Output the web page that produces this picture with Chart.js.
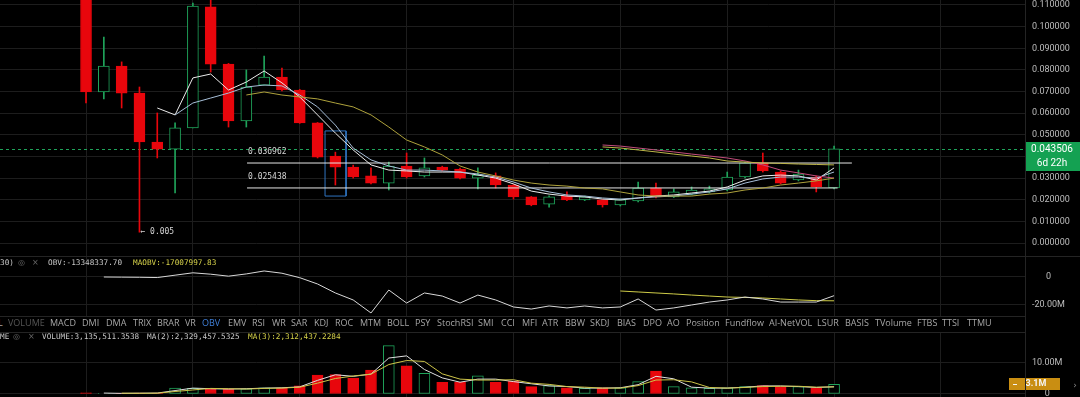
<!DOCTYPE html>
<html>
<head>
<meta charset="utf-8">
<script src="https://cdn.jsdelivr.net/npm/chart.js@4.4.1/dist/chart.umd.min.js"></script>
<style>
  body { margin: 0; background: #000; width: 1080px; height: 397px; overflow: hidden; position: relative; font-family: 'Open Sans', sans-serif; }
  canvas { position: absolute; left: 0; }
  #main { top: 0; }
  #obv { top: 256px; }
  #vol { top: 332px; }
  .hd { position: absolute; font: 7.7px 'DejaVu Sans Mono', monospace; color: #c8c8c8; white-space: pre; line-height: 10px; z-index: 2; }
  .icon { color: #6a6a6a; font-family: 'DejaVu Sans', sans-serif; font-size: 8px; }
  .yel { color: #d6d24a; }
  .tab { position: absolute; top: 317px; font-size: 9px; color: #a6a6a6; line-height: 12px; white-space: pre; }
  .rule { position: absolute; background: #242424; }
</style>
</head>
<body>
<canvas id="main" width="1080" height="256"></canvas>
<canvas id="obv" width="1080" height="60"></canvas>
<canvas id="vol" width="1080" height="65"></canvas>

<div class="rule" style="left:0;top:256px;width:1080px;height:1px"></div>
<div class="rule" style="left:0;top:316px;width:1025px;height:1px"></div>
<div class="rule" style="left:0;top:332px;width:1025px;height:1px"></div>
<div class="rule" style="left:1025px;top:0;width:1px;height:397px"></div>

<div class="hd" style="left:0;top:258px">30)</div>
<div class="hd icon" style="left:18px;top:258px">◎</div>
<div class="hd icon" style="left:32px;top:258px">×</div>
<div class="hd" style="left:48px;top:258px">OBV:-13348337.70</div>
<div class="hd yel" style="left:133px;top:258px">MAOBV:-17007997.83</div>

<div class="hd" style="left:0;top:332px">ME</div>
<div class="hd icon" style="left:13px;top:332px">◎</div>
<div class="hd icon" style="left:28px;top:332px">×</div>
<div class="hd" style="left:42px;top:332px">VOLUME:3,135,511.3538</div>
<div class="hd" style="left:147px;top:332px">MA(2):2,329,457.5325</div>
<div class="hd yel" style="left:248px;top:332px">MA(3):2,312,437.2284</div>

<div id="tabs"></div>

<script>
// ---- data ----
const opens  = [0.125, 0.0698, 0.0818, 0.0693, 0.0467, 0.0434, 0.0532, 0.1091, 0.0827, 0.0564, 0.0730, 0.0767, 0.0707, 0.0555, 0.0402, 0.0351, 0.0310, 0.0277, 0.0356, 0.0310, 0.0351, 0.0342, 0.0300, 0.0310, 0.0268, 0.0213, 0.0180, 0.0217, 0.0199, 0.0199, 0.0176, 0.0194, 0.0254, 0.0213, 0.0226, 0.0236, 0.0245, 0.0305, 0.0370, 0.0328, 0.0291, 0.0305, 0.0254];
const closes = [0.0698, 0.0818, 0.0693, 0.0467, 0.0434, 0.0532, 0.1095, 0.0827, 0.0564, 0.0721, 0.0767, 0.0707, 0.0555, 0.0397, 0.0351, 0.0305, 0.0277, 0.0356, 0.0305, 0.0347, 0.0337, 0.0300, 0.0314, 0.0268, 0.0213, 0.0176, 0.0213, 0.0199, 0.0213, 0.0176, 0.0199, 0.0254, 0.0213, 0.0236, 0.0245, 0.0250, 0.0305, 0.0370, 0.0333, 0.0277, 0.0319, 0.0259, 0.043506];
const highs  = [0.128, 0.0952, 0.0837, 0.0721, 0.0601, 0.0555, 0.1109, 0.1123, 0.0830, 0.0800, 0.0864, 0.0809, 0.0710, 0.0557, 0.0420, 0.0360, 0.0347, 0.0374, 0.0416, 0.0393, 0.0355, 0.0346, 0.0347, 0.0324, 0.0270, 0.0215, 0.0218, 0.0236, 0.0217, 0.0201, 0.0203, 0.0282, 0.0277, 0.0250, 0.0259, 0.0263, 0.0328, 0.0374, 0.0416, 0.0333, 0.0337, 0.0310, 0.0448];
const lows   = [0.0647, 0.0666, 0.0624, 0.0050, 0.0393, 0.0231, 0.0532, 0.0790, 0.0536, 0.0536, 0.0730, 0.0703, 0.0553, 0.0393, 0.0268, 0.0300, 0.0273, 0.0245, 0.0300, 0.0305, 0.0333, 0.0296, 0.0250, 0.0254, 0.0203, 0.0172, 0.0166, 0.0196, 0.0196, 0.0166, 0.0171, 0.0190, 0.0208, 0.0210, 0.0222, 0.0231, 0.0241, 0.0301, 0.0328, 0.0273, 0.0287, 0.0236, 0.0250];

const maWhite  = [null, null, null, null, 0.0624, 0.0592, 0.0763, 0.0781, 0.0707, 0.0744, 0.0795, 0.0740, 0.0675, 0.0592, 0.0508, 0.0430, 0.0361, 0.0337, 0.0333, 0.0328, 0.0328, 0.0328, 0.0314, 0.0300, 0.0273, 0.0240, 0.0226, 0.0217, 0.0213, 0.0203, 0.0199, 0.0208, 0.0217, 0.0222, 0.0231, 0.0240, 0.0259, 0.0291, 0.0310, 0.0314, 0.0310, 0.0291, 0.0347];
const maBlue   = [null, null, null, null, null, 0.0592, 0.0647, 0.0670, 0.0693, 0.0721, 0.0730, 0.0726, 0.0684, 0.0629, 0.0545, 0.0439, 0.0384, 0.0356, 0.0337, 0.0337, 0.0333, 0.0328, 0.0319, 0.0305, 0.0282, 0.0254, 0.0236, 0.0222, 0.0217, 0.0208, 0.0203, 0.0208, 0.0213, 0.0217, 0.0226, 0.0236, 0.0250, 0.0277, 0.0296, 0.0305, 0.0305, 0.0300, 0.0328];
const maOlive  = [null, null, null, null, null, null, null, null, null, 0.0684, 0.0698, 0.0684, 0.0675, 0.0666, 0.0647, 0.0629, 0.0592, 0.0536, 0.0476, 0.0444, 0.0407, 0.0356, 0.0328, 0.0310, 0.0291, 0.0277, 0.0268, 0.0263, 0.0254, 0.0250, 0.0236, 0.0222, 0.0217, 0.0217, 0.0217, 0.0226, 0.0231, 0.0245, 0.0254, 0.0268, 0.0277, 0.0287, 0.0300];
const maPink   = [null, null, null, null, null, null, null, null, null, null, null, null, null, null, null, null, null, null, null, null, null, null, null, null, null, null, null, null, null, 0.0453, 0.0448, 0.0439, 0.0430, 0.0421, 0.0411, 0.0402, 0.0393, 0.0379, 0.0361, 0.0337, 0.0324, 0.0310, 0.0300];
const maYellow = [null, null, null, null, null, null, null, null, null, null, null, null, null, null, null, null, null, null, null, null, null, null, null, null, null, null, null, null, null, 0.0444, 0.0439, 0.0430, 0.0421, 0.0411, 0.0402, 0.0393, 0.0379, 0.0374, 0.0370, 0.0368, 0.0365, 0.0363, 0.0361];

const levels     = [0.036962, 0.025438];
const levelStart = [9.04, 9.04];
const levelEnd   = [43.0, 42.2];
const boxX = [13.42, 14.6];
const boxY = [0.0217, 0.0518];

// volume, millions
const volumes = [0.4, 0.2, 0.2, 0.3, 0.3, 1.9, 1.8, 1.6, 1.6, 1.7, 2.0, 1.9, 2.6, 6.1, 6.3, 5.1, 7.7, 15.6, 9.1, 6.7, 3.8, 3.8, 5.9, 3.8, 4.2, 2.4, 2.7, 2.0, 1.8, 2.0, 2.0, 4.0, 7.4, 2.4, 2.0, 1.8, 2.0, 2.4, 2.7, 2.4, 2.4, 1.8, 3.14];
const volMa2  = [null, 0.3, 0.2, 0.25, 0.3, 1.1, 1.9, 1.7, 1.6, 1.7, 1.9, 2.0, 2.3, 4.4, 6.2, 5.7, 6.4, 11.6, 12.3, 7.9, 5.2, 3.8, 4.8, 4.8, 4.0, 3.3, 2.6, 2.4, 1.9, 1.9, 2.0, 3.0, 5.7, 4.9, 2.2, 1.9, 1.9, 2.2, 2.6, 2.6, 2.4, 2.1, 2.33];
const volMa3  = [null, null, 0.27, 0.23, 0.27, 0.8, 1.3, 1.8, 1.7, 1.6, 1.8, 1.9, 2.2, 3.5, 5.0, 5.8, 6.4, 9.5, 10.8, 10.5, 6.5, 4.8, 4.5, 4.5, 4.6, 3.5, 3.1, 2.4, 2.2, 1.9, 1.9, 2.7, 4.5, 4.6, 3.9, 2.1, 1.9, 2.1, 2.4, 2.5, 2.5, 2.2, 2.31];

// OBV, millions
const obv   = [null, 0, -0.1, -0.2, -0.4, 1.3, 3.0, 2.0, 0.6, 2.2, 4.3, 2.7, -0.5, -5.0, -11.4, -16.4, -25.7, -9.3, -18.6, -11.4, -13.6, -18.6, -12.9, -16.4, -21.4, -22.9, -20.7, -22.1, -20.7, -22.1, -21.4, -15.7, -23.6, -22.1, -20.0, -17.9, -16.4, -14.3, -15.7, -17.9, -17.9, -17.9, -13.35];
const maObv = [null, null, null, null, null, null, null, null, null, null, null, null, null, null, null, null, null, null, null, null, null, null, null, null, null, null, null, null, null, null, -10.0, -10.7, -11.4, -12.1, -12.9, -13.6, -14.3, -14.6, -15.0, -15.7, -16.4, -16.9, -17.0];

const priceTicks = [0, 0.01, 0.02, 0.03, 0.04, 0.05, 0.06, 0.07, 0.08, 0.09, 0.10, 0.11];
const obvTicks = [0, -20];
const volTicks = [0, 10];
const gridIdx = [0, 6, 12, 18, 24, 30, 36, 42, 48];
const countdown = '6d 22h';

const tabs = [['L', -2], ['VOLUME', 8], ['MACD', 50], ['DMI', 82], ['DMA', 106], ['TRIX', 133], ['BRAR', 157], ['VR', 185], ['OBV', 202], ['EMV', 228], ['RSI', 252], ['WR', 272], ['SAR', 291], ['KDJ', 314], ['ROC', 335], ['MTM', 360], ['BOLL', 387], ['PSY', 415], ['StochRSI', 437], ['SMI', 478], ['CCI', 501], ['MFI', 522], ['ATR', 542], ['BBW', 565], ['SKDJ', 590], ['BIAS', 617], ['DPO', 643], ['AO', 667], ['Position', 686], ['Fundflow', 725], ['AI-NetVOL', 769], ['LSUR', 817], ['BASIS', 845], ['TVolume', 875], ['FTBS', 917], ['TTSI', 942], ['TTMU', 967]];

// ---- styles ----
const RED = '#e8060c';
const GREEN = '#1fa35a';
const GRID = '#1d1d1d';
const AXIS_FONT = { family: 'Roboto', size: 9 };
const X_MIN = -4.83, X_MAX = 52.72;

const tabBox = document.getElementById('tabs');
tabs.forEach(([t, x]) => {
    const d = document.createElement('div');
    d.className = 'tab';
    d.style.left = x + 'px';
    if (t === 'OBV') d.style.color = '#3f7fd8';
    if (t === 'VOLUME') d.style.color = '#555';
    d.textContent = t;
    tabBox.appendChild(d);
});

const idx = opens.map((_, i) => i);
const up = idx.map(i => closes[i] >= opens[i]);
const pts = arr => arr.map((v, i) => ({ x: i, y: v })).filter(p => p.y !== null);
const lineSet = (data, color, order) => ({
    type: 'line', data, borderColor: color, borderWidth: 1, pointRadius: 0, tension: 0, order: order || 0
});

function xScale() {
    return {
        type: 'linear', min: X_MIN, max: X_MAX, offset: false,
        afterFit: a => { a.height = 0; a.paddingTop = 0; a.paddingBottom = 0; a.paddingLeft = 0; a.paddingRight = 0; },
        afterBuildTicks: a => { a.ticks = gridIdx.map(v => ({ value: v })); },
        ticks: { display: false },
        grid: { color: GRID, offset: false, drawTicks: false },
        border: { display: false }
    };
}
function yScale(min, max, ticks, fmt) {
    return {
        position: 'right', min, max,
        afterFit: a => { a.width = 55; a.paddingTop = 0; a.paddingBottom = 0; },
        afterBuildTicks: a => { a.ticks = ticks.map(v => ({ value: v })); },
        ticks: { color: '#bdbdbd', font: AXIS_FONT, padding: 7, crossAlign: 'center', callback: fmt },
        grid: { color: GRID, drawTicks: false },
        border: { color: '#262626' }
    };
}
const baseOpts = {
    responsive: false, animation: false, events: [],
    layout: { padding: 0, autoPadding: false },
    plugins: { legend: { display: false }, tooltip: { enabled: false } }
};
const fmtM = v => v === 0 ? '0' : v.toFixed(2) + 'M';

// --- main price chart overlays ---
const lastPrice = closes[closes.length - 1];
const mainOverlay = {
    id: 'mainOverlay',
    beforeDatasetsDraw(chart) {
        const { ctx, chartArea, scales: { y } } = chart;
        const py = Math.round(y.getPixelForValue(lastPrice)) + 0.5;
        ctx.save();
        ctx.strokeStyle = GREEN;
        ctx.lineWidth = 1;
        ctx.setLineDash([3, 3]);
        ctx.beginPath();
        ctx.moveTo(chartArea.left, py);
        ctx.lineTo(chartArea.right, py);
        ctx.stroke();
        ctx.restore();
    },
    afterDatasetsDraw(chart) {
        const { ctx, scales: { x, y } } = chart;
        ctx.save();
        ctx.font = "8px 'DejaVu Sans Mono'";
        ctx.fillStyle = '#d4d4d4';
        ctx.textBaseline = 'middle';
        ctx.textAlign = 'left';
        levels.forEach((lv, i) => {
            ctx.fillText(lv.toFixed(6), x.getPixelForValue(levelStart[i]) + 1, y.getPixelForValue(lv) - 11);
        });
        // lowest low marker
        let lo = 0;
        lows.forEach((v, i) => { if (v < lows[lo]) lo = i; });
        ctx.fillText('← ' + lows[lo].toFixed(3), x.getPixelForValue(lo) + 1, y.getPixelForValue(lows[lo]));
        ctx.restore();
    },
    afterDraw(chart) {
        const { ctx, chartArea, width, scales: { y } } = chart;
        const py = Math.round(y.getPixelForValue(lastPrice));
        ctx.save();
        ctx.fillStyle = '#14a152';
        ctx.fillRect(chartArea.right, py - 7, width - chartArea.right, 29);
        ctx.fillStyle = '#ffffff';
        ctx.font = "10px Roboto";
        ctx.textAlign = 'center';
        ctx.textBaseline = 'middle';
        const cx = chartArea.right + 27;
        ctx.fillText(lastPrice.toFixed(6), cx, py);
        ctx.fillText(countdown, cx, py + 14);
        ctx.restore();
    }
};

const levelSets = levels.map((lv, i) => lineSet([{ x: levelStart[i], y: lv }, { x: levelEnd[i], y: lv }], '#e6e6e6', 0));
const boxSet = lineSet([
    { x: boxX[0], y: boxY[0] }, { x: boxX[0], y: boxY[1] },
    { x: boxX[1], y: boxY[1] }, { x: boxX[1], y: boxY[0] }, { x: boxX[0], y: boxY[0] }
], '#2f74c0', 0);

new Chart(document.getElementById('main'), {
    type: 'bar',
    data: {
        datasets: [
            lineSet(pts(maOlive), '#aea23c'),
            lineSet(pts(maYellow), '#bdb548'),
            lineSet(pts(maPink), '#c24c7c'),
            lineSet(pts(maBlue), '#a7bfd8'),
            lineSet(pts(maWhite), '#ececec'),
            ...levelSets,
            boxSet,
            {
                type: 'bar', order: 3, grouped: false, barThickness: 1,
                data: idx.map(i => ({ x: i, y: [lows[i], highs[i]] })),
                backgroundColor: up.map(u => u ? GREEN : RED)
            },
            {
                type: 'bar', order: 2, grouped: false, barThickness: 11,
                data: idx.map(i => ({ x: i, y: [opens[i], closes[i]] })),
                backgroundColor: up.map(u => u ? '#000' : RED),
                borderColor: up.map(u => u ? GREEN : RED),
                borderWidth: 1, borderSkipped: false
            }
        ]
    },
    options: {
        ...baseOpts,
        scales: {
            x: xScale(),
            y: yScale(-0.006008, 0.11231, priceTicks, v => v.toFixed(6))
        }
    },
    plugins: [mainOverlay]
});

// --- OBV panel ---
new Chart(document.getElementById('obv'), {
    type: 'line',
    data: {
        datasets: [
            lineSet(pts(maObv), '#cfcc48', 1),
            lineSet(pts(obv), '#d8d8d8', 0)
        ]
    },
    options: {
        ...baseOpts,
        scales: {
            x: xScale(),
            y: yScale(-27.86, 15, obvTicks, fmtM)
        }
    }
});

// --- volume panel ---
const lastVol = volumes[volumes.length - 1];
const volBadge = {
    id: 'volBadge',
    afterDraw(chart) {
        const { ctx, chartArea, scales: { y } } = chart;
        const py = Math.round(y.getPixelForValue(lastVol));
        ctx.save();
        ctx.fillStyle = '#c98e12';
        ctx.fillRect(chartArea.right - 16, py - 6, 51, 12);
        ctx.fillStyle = '#f4f4f4';
        ctx.fillRect(chartArea.right - 12, py, 4, 1);
        ctx.font = "bold 9px Roboto";
        ctx.textAlign = 'center';
        ctx.textBaseline = 'middle';
        ctx.fillText(lastVol.toFixed(1) + 'M', chartArea.right + 11, py);
        ctx.fillStyle = '#8a8a8a';
        ctx.font = "9px 'DejaVu Sans'";
        ctx.fillText('›', chartArea.right + 50, py + 2);
        ctx.restore();
    }
};

new Chart(document.getElementById('vol'), {
    type: 'bar',
    data: {
        datasets: [
            lineSet(pts(volMa3), '#cdc448', 0),
            lineSet(pts(volMa2), '#e0e0e0', 0),
            {
                type: 'bar', order: 2, grouped: false, barThickness: 11,
                data: idx.map(i => ({ x: i, y: volumes[i] })),
                backgroundColor: up.map(u => u ? '#000' : RED),
                borderColor: up.map(u => u ? GREEN : RED),
                borderWidth: 1, borderSkipped: false
            }
        ]
    },
    options: {
        ...baseOpts,
        scales: {
            x: xScale(),
            y: yScale(-0.97, 20, volTicks, fmtM)
        }
    },
    plugins: [volBadge]
});
</script>
</body>
</html>
